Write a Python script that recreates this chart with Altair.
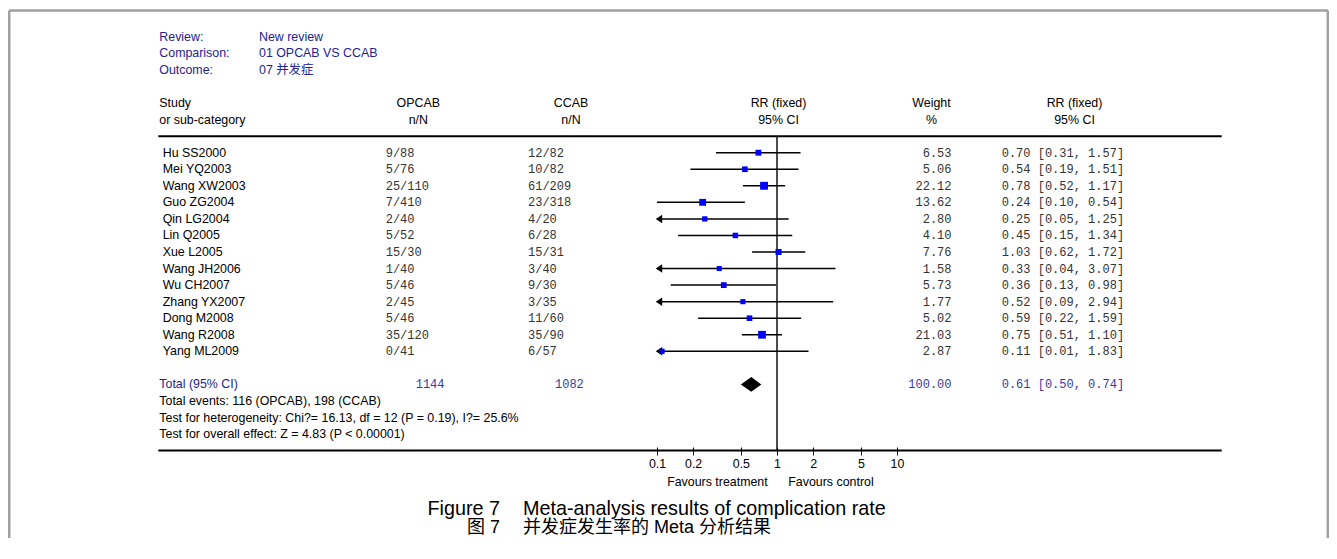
import altair as alt
import pandas as pd

# ---------------- data ----------------
studies = ["Hu SS2000", "Mei YQ2003", "Wang XW2003", "Guo ZG2004", "Qin LG2004",
           "Lin Q2005", "Xue L2005", "Wang JH2006", "Wu CH2007", "Zhang YX2007",
           "Dong M2008", "Wang R2008", "Yang ML2009"]
op_events = [9, 5, 25, 7, 2, 5, 15, 1, 5, 2, 5, 35, 0]
op_total = [88, 76, 110, 410, 40, 52, 30, 40, 46, 45, 46, 120, 41]
cc_events = [12, 10, 61, 23, 4, 6, 15, 3, 9, 3, 11, 35, 6]
cc_total = [82, 82, 209, 318, 20, 28, 31, 40, 30, 35, 60, 90, 57]
weights = [6.53, 5.06, 22.12, 13.62, 2.80, 4.10, 7.76, 1.58, 5.73, 1.77, 5.02, 21.03, 2.87]
rr = [0.70, 0.54, 0.78, 0.24, 0.25, 0.45, 1.03, 0.33, 0.36, 0.52, 0.59, 0.75, 0.11]
rr_lo = [0.31, 0.19, 0.52, 0.10, 0.05, 0.15, 0.62, 0.04, 0.13, 0.09, 0.22, 0.51, 0.01]
rr_hi = [1.57, 1.51, 1.17, 0.54, 1.25, 1.34, 1.72, 3.07, 0.98, 2.94, 1.59, 1.10, 1.83]

tot_op_n, tot_cc_n = 1144, 1082
tot_op_e, tot_cc_e = 116, 198
tot_w = 100.00
tot_rr, tot_lo, tot_hi = 0.61, 0.50, 0.74
chi2, dfree, p_het, i2 = 16.13, 12, 0.19, 25.6
z_val, p_z = 4.83, "< 0.00001"

tick_values = [0.1, 0.2, 0.5, 1, 2, 5, 10]
plot_min = 0.1

review_labels = ["Review:", "Comparison:", "Outcome:"]
review_values = ["New review", "01 OPCAB VS CCAB", "07 并发症"]
caption_en = ("Figure 7", "Meta-analysis results of complication rate")
caption_zh = ("图 7", "并发症发生率的 Meta 分析结果")

# ---------------- layout ----------------
W, H = 1321, 530
ROW0 = 144.7      # chart px of first study row
ROW_H = 16.55     # px per row
X_ONE = 769.0     # chart px of RR = 1
DECADE = 120.0    # px per decade

SANS = "Liberation Sans, Noto Sans CJK SC"
MONO = "Liberation Mono"
NAVY = "#23238f"
NAVY2 = "#3a3a9c"
FS = 12.4
FM = 12

log_min = -X_ONE / DECADE
log_max = (W - X_ONE) / DECADE
xscale = alt.Scale(type="log", domain=[10 ** log_min, 10 ** log_max], nice=False)
yscale = alt.Scale(domain=[-ROW0 / ROW_H, (H - ROW0) / ROW_H], reverse=True,
                   nice=False, zero=False)
AXIS_Y = 439
xaxis = alt.Axis(values=tick_values, format="~g", domain=False, grid=False, title=None,
                 orient="bottom", tickSize=8, tickColor="black", tickWidth=1,
                 labelFont="Liberation Sans", labelFontSize=FS, labelColor="black",
                 labelPadding=2, offset=AXIS_Y - H, labelFlush=False, labelOverlap=False)

NB = "\u00a0"
df = pd.DataFrame({
    "study": studies,
    "row": list(range(len(studies))),
    "op": [str(e).rjust(2, NB) + "/" + str(n) for e, n in zip(op_events, op_total)],
    "cc": [str(e).rjust(2, NB) + "/" + str(n) for e, n in zip(cc_events, cc_total)],
    "wt": weights,
    "wtxt": [f"{w:.2f}" for w in weights],
    "rr": rr, "lo": rr_lo, "hi": rr_hi,
    "ci": [f"{r:.2f} [{l:.2f}, {h:.2f}]" for r, l, h in zip(rr, rr_lo, rr_hi)],
})
one = pd.DataFrame({"a": [0]})
Y = alt.Y("row:Q", scale=yscale, axis=None)


def text_layer(texts, rows, x, align="left", font=SANS, size=FS, color="black"):
    d = pd.DataFrame({"text": texts, "row": rows})
    return alt.Chart(d).mark_text(align=align, baseline="middle", font=font,
                                  fontSize=size, color=color).encode(
        x=alt.value(x), y=Y, text="text:N")


def col_layer(field, x, align="left", font=MONO, size=FM, color="#333333"):
    return alt.Chart(df).mark_text(align=align, baseline="middle", font=font,
                                   fontSize=size, color=color).encode(
        x=alt.value(x), y=Y, text=f"{field}:N")


layers = []
# frame
GRAY = "#a0a0a0"
layers.append(alt.Chart(one).mark_rule(color=GRAY, strokeWidth=2.5).encode(
    x=alt.value(1.2), y=alt.value(2.5), y2=alt.value(H)))
layers.append(alt.Chart(one).mark_rule(color=GRAY, strokeWidth=2.5).encode(
    x=alt.value(1.2), x2=alt.value(W - 1.2), y=alt.value(2.5)))
layers.append(alt.Chart(one).mark_rule(color=GRAY, strokeWidth=2.5).encode(
    x=alt.value(W - 1.2), y=alt.value(2.5), y2=alt.value(H)))
# separator lines
for r in (-1, 18):
    layers.append(alt.Chart(one).mark_rule(color="black", strokeWidth=2).encode(
        x=alt.value(150.3), x2=alt.value(1213.7), y=alt.YDatum(r, scale=yscale, axis=None)))
# line of no effect
layers.append(alt.Chart(one).mark_rule(color="black", strokeWidth=1.4).encode(
    x=alt.XDatum(1, type="quantitative", scale=xscale, axis=xaxis),
    y=alt.YDatum(-1, scale=yscale, axis=None), y2=alt.Y2Datum(18)))
# CI lines
layers.append(alt.Chart(df).transform_calculate(lo_c=f"max(datum.lo, {plot_min})")
              .mark_rule(color="black", strokeWidth=1.5).encode(
    x=alt.X("lo_c:Q", scale=xscale, axis=xaxis), x2="hi:Q", y=Y))
# arrows for truncated CIs
layers.append(alt.Chart(df).transform_filter(f"datum.lo < {plot_min}")
              .mark_point(shape="M0.75,-1L-0.75,0L0.75,1Z", filled=True, size=72,
                          color="black", opacity=1, xOffset=2).encode(
    x=alt.XDatum(plot_min, type="quantitative", scale=xscale, axis=xaxis), y=Y))
# squares
layers.append(alt.Chart(df).mark_square(filled=True, color="#0000ff", opacity=1).encode(
    x=alt.X("rr:Q", scale=xscale, axis=xaxis), y=Y,
    size=alt.Size("wt:Q", scale=alt.Scale(domain=[0, 25], range=[23, 67]), legend=None)))
# diamond
dia = pd.DataFrame({"rr": [tot_lo, tot_rr, tot_hi], "k": [0, 1, 0]})
layers.append(alt.Chart(dia).transform_calculate(
    y1="14 - 0.45 * datum.k", y2="14 + 0.45 * datum.k")
    .mark_area(color="black", orient="vertical", opacity=1).encode(
    x=alt.X("rr:Q", scale=xscale, axis=xaxis),
    y=alt.Y("y1:Q", scale=yscale, axis=None), y2="y2:Q"))

# header block
layers.append(text_layer(review_labels + ["Total (95% CI)"], [-7, -6, -5, 14], 151.3, color=NAVY))
layers.append(text_layer(review_values, [-7, -6, -5], 251, color=NAVY))
layers.append(text_layer(
    ["Study", "or sub-category",
     f"Total events: {tot_op_e} (OPCAB), {tot_cc_e} (CCAB)",
     f"Test for heterogeneity: Chi?= {chi2:.2f}, df = {dfree} (P = {p_het:.2f}), I?= {i2:.1f}%",
     f"Test for overall effect: Z = {z_val:.2f} (P {p_z})"],
    [-3, -2, 15, 16, 17], 151.3))
for hdr, xc in ((("OPCAB", "n/N"), 410.3), (("CCAB", "n/N"), 563),
                (("RR (fixed)", "95% CI"), 770.5), (("Weight", "%"), 923.5),
                (("RR (fixed)", "95% CI"), 1066.5)):
    layers.append(text_layer(list(hdr), [-3, -2], xc, align="center"))

# study rows
layers.append(alt.Chart(df).mark_text(align="left", baseline="middle", font=SANS,
                                      fontSize=FS, color="black").encode(
    x=alt.value(154.7), y=Y, text="study:N"))
layers.append(col_layer("op", 377.7))
layers.append(col_layer("cc", 520))
layers.append(col_layer("wtxt", 943.5, align="right"))
layers.append(col_layer("ci", 993.7))

# total row
layers.append(text_layer([str(tot_op_n)], [14], 407.7, font=MONO, size=FM, color=NAVY2))
layers.append(text_layer([str(tot_cc_n)], [14], 547, font=MONO, size=FM, color=NAVY2))
layers.append(text_layer([f"{tot_w:.2f}"], [14], 943.5, align="right", font=MONO, size=FM, color=NAVY2))
layers.append(text_layer([f"{tot_rr:.2f} [{tot_lo:.2f}, {tot_hi:.2f}]"], [14], 993.7,
                         font=MONO, size=FM, color=NAVY2))

# favours labels
layers.append(alt.Chart(one).mark_text(align="right", baseline="middle", font=SANS,
                                       fontSize=FS, color="black").encode(
    x=alt.value(X_ONE - 9.3), y=alt.value(474.3), text=alt.value("Favours treatment")))
layers.append(alt.Chart(one).mark_text(align="left", baseline="middle", font=SANS,
                                       fontSize=FS, color="black").encode(
    x=alt.value(X_ONE + 11.3), y=alt.value(474.3), text=alt.value("Favours control")))

# captions
for (lab, body), yb, fs in ((caption_en, 506.5, 19.8), (caption_zh, 524.5, 18.0)):
    layers.append(alt.Chart(one).mark_text(align="right", baseline="alphabetic", font=SANS,
                                           fontSize=fs, color="black").encode(
        x=alt.value(492), y=alt.value(yb), text=alt.value(lab)))
    layers.append(alt.Chart(one).mark_text(align="left", baseline="alphabetic", font=SANS,
                                           fontSize=fs, color="black").encode(
        x=alt.value(515), y=alt.value(yb), text=alt.value(body)))

chart = alt.layer(*layers).properties(
    width=W, height=H, padding=0,
    autosize=alt.AutoSizeParams(type="none"),
).configure_view(strokeWidth=0)

chart.save("out.html", embed_options={"renderer": "svg", "actions": False})
